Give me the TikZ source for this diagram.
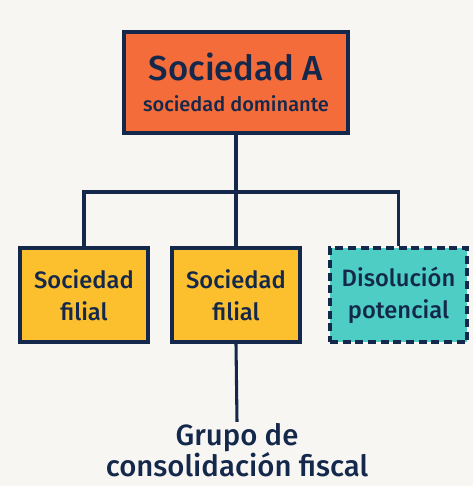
\documentclass[tikz,border=0pt]{standalone}
\usepackage{fontspec}
\setmainfont{Fira Sans}[UprightFont=* Medium]
\definecolor{navy}{HTML}{14284B}
\definecolor{fondo}{HTML}{F8F6F3}
\definecolor{naranja}{HTML}{F36C3A}
\definecolor{amarillo}{HTML}{FCC02E}
\definecolor{turquesa}{HTML}{4ECDC4}
\begin{document}
\begin{tikzpicture}[x=0.75pt, y=-0.75pt]
    % Stili
    \tikzset{sociedad/.style={draw=navy, line width=2.3pt, text=navy, align=center, inner sep=0pt}}
    \tikzstyle{filial}=[sociedad, fill=amarillo, minimum width=96pt, minimum height=70.5pt, font=\fontsize{17.8}{24}\selectfont]
    \tikzstyle{enlace}=[draw=navy, line width=2.3pt]

    % Fondo
    \fill[fondo] (0,0) rectangle (473,486);
    \useasboundingbox (0,0) rectangle (473,486);

    % Sociedad dominante
    \node[sociedad, fill=naranja, minimum width=168pt, minimum height=75.75pt] (dominante) at (236,82.5)
        {{\fontsize{26}{30}\selectfont Sociedad A}\\[10pt]{\fontsize{15}{18}\selectfont sociedad dominante}};

    % Filiales
    \node[filial] (filial1) at (84,295) {Sociedad\\filial};
    \node[filial] (filial2) at (236,295) {Sociedad\\filial};
    \node[filial, fill=turquesa, dashed, dash pattern=on 6pt off 3.5pt, minimum width=102.75pt] (disolucion) at (398.5,295) {Disolución\\potencial};

    % Grupo
    \node[text=navy, align=center, font=\fontsize{22}{23}\selectfont, inner sep=1pt] (grupo) at (237,450) {Grupo de\\consolidación fiscal};

    % Conexiones
    \coordinate (barra) at (236,192);
    \draw[enlace] (dominante.south) -- (filial2.north);
    \draw[enlace] (filial1.north) -- (filial1.north |- barra) -| (disolucion.north);
    \draw[enlace] (filial2.south) -- (grupo.north);
\end{tikzpicture}
\end{document}
